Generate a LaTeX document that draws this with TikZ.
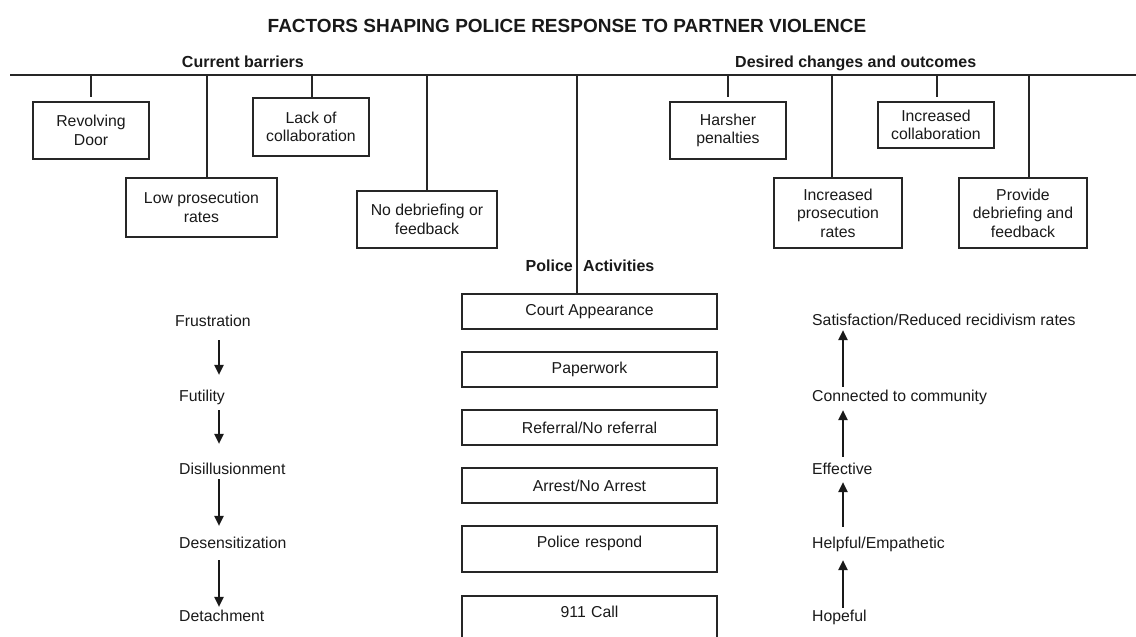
\documentclass[tikz,border=0pt]{standalone}
\usepackage{fontspec}
\setmainfont{Liberation Sans}
\usetikzlibrary{arrows.meta}
\begin{document}
\begin{tikzpicture}[x=1pt,y=-1pt,
  ln/.style={draw=black!85, line width=1.1pt},
  body/.style={font=\fontsize{15.8}{18.5}\selectfont, text=black!90, inner sep=0pt},
  hd/.style={font=\bfseries\fontsize{16}{19}\selectfont, text=black!90, inner sep=0pt},
  box/.style={body, draw=black!85, line width=1.1pt, align=center},
  word/.style={body, text height=11.5pt, text depth=3.5pt, anchor=base west},
  arr/.style={draw=black!90, line width=1.3pt, -{Triangle[length=10pt,width=9.5pt]}}]
\useasboundingbox (0,0) rectangle (1136,637);

% title and headings
\node[font=\bfseries\fontsize{19}{22}\selectfont, text=black!90, inner sep=0pt, anchor=base] (title) at (567,32) {FACTORS SHAPING POLICE RESPONSE TO PARTNER VIOLENCE};
\node[hd, anchor=base east] (cb) at (304,67) {Current barriers};
\node[hd, anchor=base west] (dc) at (735,67) {Desired changes and outcomes};

% main horizontal line
\coordinate (hl) at (10,75);
\coordinate (hr) at (1136,75);
\draw[ln] (hl) -- (hr);

% stem coordinates on the line
\coordinate (s1) at (91,75);
\coordinate (s2) at (207,75);
\coordinate (s3) at (312,75);
\coordinate (s4) at (427,75);
\coordinate (sc) at (577,75);
\coordinate (s5) at (728,75);
\coordinate (s6) at (832,75);
\coordinate (s7) at (937,75);
\coordinate (s8) at (1029,75);

% current barriers boxes
\node[box, minimum width=116pt, minimum height=57pt] (revd) at (91,130.5) {Revolving\\Door};
\node[box, minimum width=151pt, minimum height=59pt] (lowp) at (201.5,207.5) {Low prosecution\\rates};
\node[box, minimum width=116pt, minimum height=58pt] (lack) at (311,127) {Lack of\\collaboration};
\node[box, minimum width=140pt, minimum height=57pt] (nodb) at (427,219.5) {No debriefing or\\feedback};

% desired changes boxes
\node[box, minimum width=116pt, minimum height=57pt] (hars) at (728,130.5) {Harsher\\penalties};
\node[box, minimum width=128pt, minimum height=70pt] (incp) at (838,213) {Increased\\prosecution\\rates};
\node[box, minimum width=116pt, minimum height=46pt] (incc) at (936,125) {Increased\\collaboration};
\node[box, minimum width=128pt, minimum height=70pt] (prov) at (1023,213) {Provide\\debriefing and\\feedback};

% police activities
\node[box, minimum width=255pt, minimum height=35pt] (court) at (589.5,311.5) {Court Appearance};
\node[box, minimum width=255pt, minimum height=35pt] (paper) at (589.5,369.5) {Paperwork};
\node[box, minimum width=255pt, minimum height=35pt] (refer) at (589.5,427.5) {Referral/No referral};
\node[box, minimum width=255pt, minimum height=35pt] (arrest) at (589.5,485.5) {Arrest/No Arrest};
\node[box, minimum width=255pt, text width=255pt, text height=21.5pt, text depth=24.5pt] (resp) at (589.5,549) {Police respond};
\node[box, minimum width=255pt, text width=255pt, text height=21.5pt, text depth=45pt] (call) at (589.5,629.25) {911 Call};

\node[hd, anchor=base east] (pol) at (573,271) {Police};
\node[hd, anchor=base west] (act) at (583,271) {Activities};

% stems
\draw[ln, shorten >=4pt] (s1) -- (s1 |- revd.north);
\draw[ln] (s2) -- (s2 |- lowp.north);
\draw[ln] (s3) -- (s3 |- lack.north);
\draw[ln] (s4) -- (s4 |- nodb.north);
\draw[ln] (sc) -- (sc |- court.north);
\draw[ln, shorten >=4pt] (s5) -- (s5 |- hars.north);
\draw[ln] (s6) -- (s6 |- incp.north);
\draw[ln, shorten >=4pt] (s7) -- (s7 |- incc.north);
\draw[ln] (s8) -- (s8 |- prov.north);

% left column
\node[word] (frus) at (175,326) {Frustration};
\node[word] (fut)  at (179,401) {Futility};
\node[word] (disi) at (179,474) {Disillusionment};
\node[word] (dese) at (179,548) {Desensitization};
\node[word] (deta) at (179,621) {Detachment};
\coordinate (xl) at (219,0);
\draw[arr, shorten <=10.5pt, shorten >=14.5pt] (frus.south -| xl) -- (fut.north -| xl);
\draw[arr, shorten <=5.5pt, shorten >=18.5pt] (fut.south -| xl) -- (disi.north -| xl);
\draw[arr, shorten <=1.5pt, shorten >=10.5pt] (disi.south -| xl) -- (dese.north -| xl);
\draw[arr, shorten <=8.5pt, shorten >=2.5pt] (dese.south -| xl) -- (deta.north -| xl);

% right column
\node[word] (sat)  at (812,325) {Satisfaction/Reduced recidivism rates};
\node[word] (conn) at (812,401) {Connected to community};
\node[word] (eff)  at (812,474) {Effective};
\node[word] (help) at (812,548) {Helpful/Empathetic};
\node[word] (hope) at (812,621) {Hopeful};
\coordinate (xr) at (843,0);
\draw[arr, shorten <=2.5pt, shorten >=1.5pt] (conn.north -| xr) -- (sat.south -| xr);
\draw[arr, shorten <=5.5pt, shorten >=5.5pt] (eff.north -| xr) -- (conn.south -| xr);
\draw[arr, shorten <=9.5pt, shorten >=4.5pt] (help.north -| xr) -- (eff.south -| xr);
\draw[arr, shorten <=1.5pt, shorten >=8.5pt] (hope.north -| xr) -- (help.south -| xr);
\end{tikzpicture}
\end{document}
